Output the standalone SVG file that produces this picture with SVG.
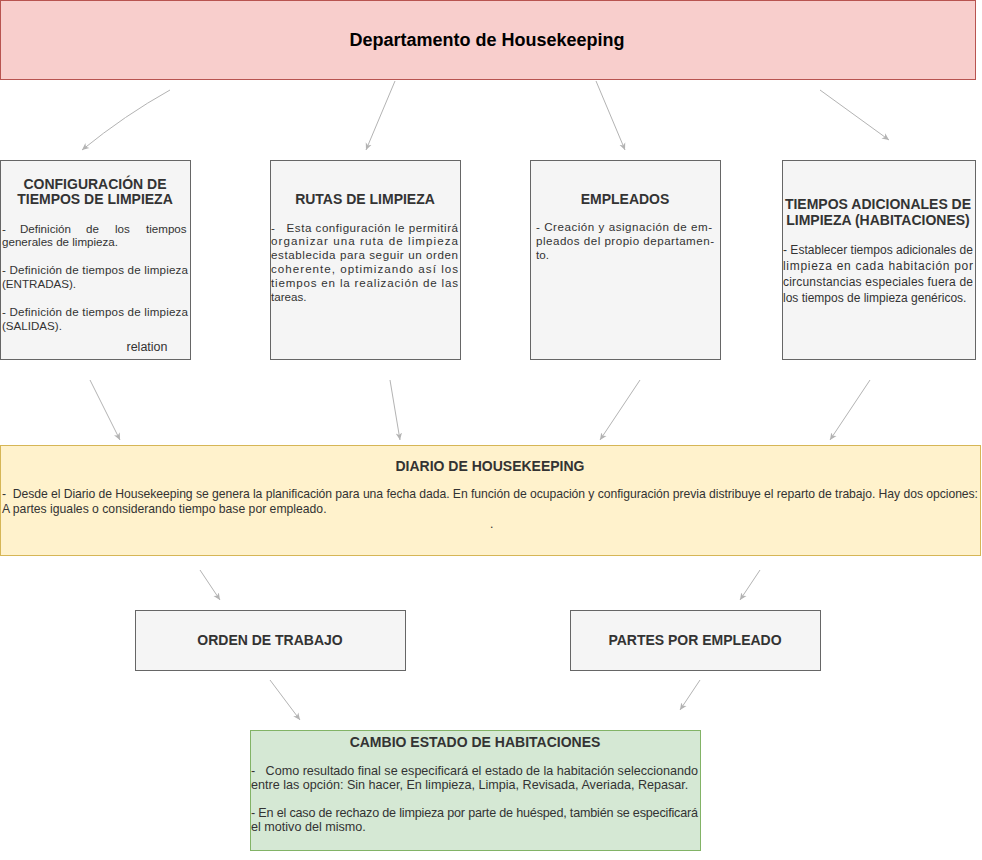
<svg xmlns="http://www.w3.org/2000/svg" width="982" height="860" viewBox="0 0 982 860">
<defs>
<marker id="arr" markerWidth="8" markerHeight="8" refX="7" refY="4" orient="auto" markerUnits="userSpaceOnUse">
<path d="M0,0.8 L7,4 L0,7.2 L2,4 Z" fill="#b3b3b3"/>
</marker>
<style>
.box{fill:#f5f5f5;stroke:#666666;stroke-width:1}
.t{font-family:"Liberation Sans",Arial,sans-serif;font-weight:bold;font-size:14px;fill:#333333;text-anchor:middle}
.b{font-family:"Liberation Sans",Arial,sans-serif;font-size:11.6px;fill:#333333}
.b4{font-family:"Liberation Sans",Arial,sans-serif;font-size:12px;fill:#333333}
.b12{font-family:"Liberation Sans",Arial,sans-serif;font-size:12.6px;fill:#333333}
.bd{font-family:"Liberation Sans",Arial,sans-serif;font-size:12.2px;fill:#333333}
.c{stroke:#b3b3b3;stroke-width:1;fill:none;marker-end:url(#arr)}
</style>
</defs>
<rect width="982" height="860" fill="#ffffff"/>
<g id="header">
<rect x="0.5" y="0.5" width="975" height="79" fill="#f8cecc" stroke="#b85450"/>
<text x="487" y="46" font-family="'Liberation Sans',Arial,sans-serif" font-weight="bold" font-size="18" fill="#000000" text-anchor="middle">Departamento de Housekeeping</text>
</g>
<g id="config">
<rect class="box" x="0.5" y="160.5" width="190" height="199"/>
<text class="t" x="95" y="189">CONFIGURACIÓN DE</text>
<text class="t" x="95" y="204">TIEMPOS DE LIMPIEZA</text>
<text class="b" y="233"><tspan x="2">-</tspan><tspan x="20">Definición</tspan><tspan x="86">de</tspan><tspan x="115">los</tspan><tspan x="146">tiempos</tspan></text>
<text class="b" x="2" y="246">generales de limpieza.</text>
<text class="b" x="2" y="274" textLength="186" lengthAdjust="spacing">- Definición de tiempos de limpieza</text>
<text class="b" x="2" y="288">(ENTRADAS).</text>
<text class="b" x="2" y="316" textLength="186" lengthAdjust="spacing">- Definición de tiempos de limpieza</text>
<text class="b" x="2" y="330">(SALIDAS).</text>
<text x="147" y="351" font-family="'Liberation Sans',Arial,sans-serif" font-size="12.5" fill="#333333" text-anchor="middle">relation</text>
</g>
<g id="rutas">
<rect class="box" x="270.5" y="160.5" width="190" height="199"/>
<text class="t" x="365" y="204">RUTAS DE LIMPIEZA</text>
<text class="b" x="271" y="232" textLength="187" lengthAdjust="spacing" xml:space="preserve">-   Esta configuración le permitirá</text>
<text class="b" x="271" y="245" textLength="187" lengthAdjust="spacing">organizar una ruta de limpieza</text>
<text class="b" x="271" y="259" textLength="187" lengthAdjust="spacing">establecida para seguir un orden</text>
<text class="b" x="271" y="273" textLength="187" lengthAdjust="spacing">coherente, optimizando así los</text>
<text class="b" x="271" y="287" textLength="187" lengthAdjust="spacing">tiempos en la realización de las</text>
<text class="b" x="271" y="301">tareas.</text>
</g>
<g id="empleados">
<rect class="box" x="530.5" y="160.5" width="190" height="199"/>
<text class="t" x="625" y="204">EMPLEADOS</text>
<text class="b" x="536" y="231" fill="#000000" textLength="176" lengthAdjust="spacing">- Creación y asignación de em-</text>
<text class="b" x="536" y="245" fill="#000000" textLength="178" lengthAdjust="spacing">pleados del propio departamen-</text>
<text class="b" x="536" y="259" fill="#000000">to.</text>
</g>
<g id="tiempos">
<rect class="box" x="782.5" y="160.5" width="193" height="199"/>
<text class="t" x="878" y="209">TIEMPOS ADICIONALES DE</text>
<text class="t" x="878" y="225">LIMPIEZA (HABITACIONES)</text>
<text class="b4" x="783" y="254" textLength="190" lengthAdjust="spacing">- Establecer tiempos adicionales de</text>
<text class="b4" x="783" y="270" textLength="190" lengthAdjust="spacing">limpieza en cada habitación por</text>
<text class="b4" x="783" y="286" textLength="190" lengthAdjust="spacing">circunstancias especiales fuera de</text>
<text class="b4" x="783" y="302">los tiempos de limpieza genéricos.</text>
</g>
<g id="diario">
<rect x="0.5" y="445.5" width="980" height="110" fill="#fff2cc" stroke="#d6b656"/>
<text class="t" x="490" y="471" fill="#000000">DIARIO DE HOUSEKEEPING</text>
<text class="bd" x="2" y="498" textLength="976" lengthAdjust="spacing" xml:space="preserve">-  Desde el Diario de Housekeeping se genera la planificación para una fecha dada. En función de ocupación y configuración previa distribuye el reparto de trabajo. Hay dos opciones:</text>
<text class="bd" x="2" y="513">A partes iguales o considerando tiempo base por empleado.</text>
<text class="bd" x="490" y="528">.</text>
</g>
<g id="orden">
<rect class="box" x="135.5" y="610.5" width="270" height="60"/>
<text class="t" x="270" y="645">ORDEN DE TRABAJO</text>
</g>
<g id="partes">
<rect class="box" x="570.5" y="610.5" width="250" height="60"/>
<text class="t" x="695" y="645">PARTES POR EMPLEADO</text>
</g>
<g id="cambio">
<rect x="250.5" y="730.5" width="450" height="120" fill="#d5e8d4" stroke="#82b366"/>
<text class="t" x="475" y="747" fill="#000000">CAMBIO ESTADO DE HABITACIONES</text>
<text class="b12" x="251" y="775" textLength="447" lengthAdjust="spacing" xml:space="preserve">-   Como resultado final se especificará el estado de la habitación seleccionando</text>
<text class="b12" x="251" y="789">entre las opción: Sin hacer, En limpieza, Limpia, Revisada, Averiada, Repasar.</text>
<text class="b12" x="251" y="817" textLength="447" lengthAdjust="spacing">- En el caso de rechazo de limpieza por parte de huésped, también se especificará</text>
<text class="b12" x="251" y="831">el motivo del mismo.</text>
</g>
<g id="connectors">
<path class="c" d="M170,90 Q125,115 82,150"/>
<path class="c" d="M395,81 L366,150"/>
<path class="c" d="M596,81 L625,150"/>
<path class="c" d="M820,90 L889,140"/>
<path class="c" d="M90,380 L120,440"/>
<path class="c" d="M390,380 L400,440"/>
<path class="c" d="M640,380 L600,440"/>
<path class="c" d="M870,380 L830,440"/>
<path class="c" d="M200,570 L220,600"/>
<path class="c" d="M760,570 L740,600"/>
<path class="c" d="M270,680 L300,720"/>
<path class="c" d="M700,680 L680,710"/>
</g>
</svg>
